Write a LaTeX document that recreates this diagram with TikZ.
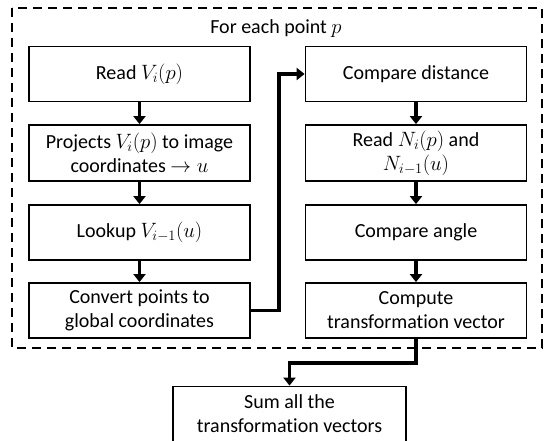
\documentclass[tikz,border=0pt]{standalone}
\usepackage{fontspec}
\setmainfont{Carlito}[Ligatures=NoCommon]
\usetikzlibrary{arrows.meta}
\begin{document}
\begin{tikzpicture}[x=1pt,y=-1pt,
  txt/.style={font=\fontsize{20}{24}\selectfont},
  stepbox/.style={draw,line width=1.8pt,minimum width=221pt,minimum height=#1,
    inner sep=0pt,align=center,txt},
  stepbox/.default=55pt,
  flow/.style={line width=3.8pt,-{Triangle[width=12pt,length=8pt]}},
  frame/.style={draw,line width=1.8pt,dash pattern=on 9pt off 6pt}]
\useasboundingbox (0,0) rectangle (548,441);
% dashed frame around the per-point loop
\draw[frame] (12,8) rectangle (542,348);
\node[txt] (title) at (276,29) {For each point $p$};
% left column
\node[stepbox] (a1) at (139.5,74) {Read $V_i(p)$};
\node[stepbox=56pt] (a2) at (139.5,153) {Projects $V_i(p)$ to image\\coordinates $\rightarrow u$};
\node[stepbox] (a3) at (139.5,232.5) {Lookup $V_{i-1}(u)$};
\node[stepbox] (a4) at (139.5,310.5) {Convert points to\\global coordinates};
% right column
\node[stepbox] (b1) at (416,74) {Compare distance};
\node[stepbox=56pt] (b2) at (416,153) {Read $N_i(p)$ and\\$N_{i-1}(u)$};
\node[stepbox] (b3) at (416,232.5) {Compare angle};
\node[stepbox] (b4) at (416,310.5) {Compute\\transformation vector};
% final step
\node[stepbox,minimum width=233pt] (c) at (289.5,414) {Sum all the\\transformation vectors};
% connectors
\draw[flow] (a1) -- (a2);
\draw[flow] (a2) -- (a3);
\draw[flow] (a3) -- (a4);
\draw[flow] (a4.east) -- ++(28,0) |- (b1.west);
\draw[flow] (b1) -- (b2);
\draw[flow] (b2) -- (b3);
\draw[flow] (b3) -- (b4);
\draw[flow] (b4.south) -- ++(0,24) -| (c.north);
\end{tikzpicture}
\end{document}
